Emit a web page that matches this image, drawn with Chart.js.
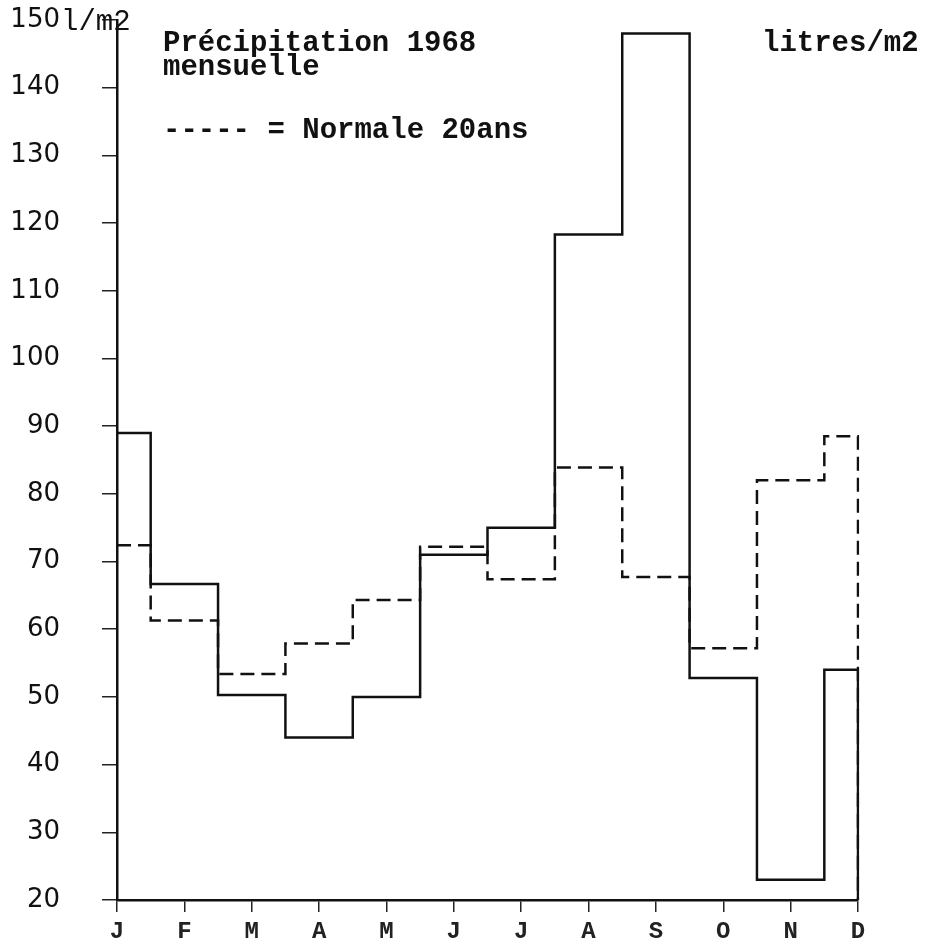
<!DOCTYPE html>
<html>
<head>
<meta charset="utf-8">
<script src="https://cdn.jsdelivr.net/npm/chart.js@4/dist/chart.umd.min.js"></script>
<style>
  html, body { margin: 0; padding: 0; background: #fff; }
  #wrap { width: 933px; height: 945px; position: relative; }
</style>
</head>
<body>
<div id="wrap"><canvas id="c" width="933" height="945"></canvas></div>
<script>
// ---- data ----
const MONTHS = ['J','F','M','A','M','J','J','A','S','O','N','D'];
const RAIN_1968 = [89, 66.7, 50.3, 44, 50, 71, 75, 118.3, 148, 52.8, 23, 54];   // litres/m2, monthly 1968
const NORMAL_20Y = [72.4, 61.3, 53.4, 57.9, 64.3, 72.2, 67.4, 83.9, 67.7, 57.2, 82, 88.5]; // 20-year normal
const Y_MIN = 20;
const Y_MAX = 150;
const Y_STEP = 10;
const TITLE_LINES = ['Précipitation 1968', 'mensuelle'];
const LEGEND_TEXT = '----- = Normale 20ans';
const UNIT_TEXT = 'litres/m2';
const AXIS_UNIT = 'l/m2';

// each series ends by dropping back to the axis baseline at the last month
function toSteps(values) {
  const pts = values.map((v, i) => ({ x: MONTHS[i], y: v }));
  pts.push({ x: MONTHS[MONTHS.length - 1], y: Y_MIN });
  return pts;
}

const textPlugin = {
  id: 'texts',
  afterDraw(chart) {
    const ctx = chart.ctx;
    const y = chart.scales.y;
    ctx.save();
    ctx.fillStyle = '#111';
    ctx.textBaseline = 'alphabetic';
    ctx.textAlign = 'left';
    ctx.font = 'bold 29px "Liberation Mono", monospace';
    ctx.fillText(TITLE_LINES[0], 163, 51);
    ctx.fillText(TITLE_LINES[1], 163, 75);
    ctx.fillText(LEGEND_TEXT, 163, 138);
    ctx.fillText(UNIT_TEXT, 762, 51);
    // unit appended to the top tick label
    ctx.font = '29px "Liberation Mono", monospace';
    ctx.textBaseline = 'middle';
    ctx.fillText(AXIS_UNIT, 61, y.getPixelForValue(Y_MAX) + 2);
    ctx.restore();
  }
};

new Chart(document.getElementById('c'), {
  type: 'line',
  data: {
    labels: MONTHS,
    datasets: [
      {
        label: 'Précipitation 1968',
        data: toSteps(RAIN_1968),
        stepped: 'middle',
        borderColor: '#111',
        borderWidth: 2.5,
        pointRadius: 0,
        fill: false
      },
      {
        label: 'Normale 20ans',
        data: toSteps(NORMAL_20Y),
        stepped: 'middle',
        borderColor: '#111',
        borderWidth: 2.5,
        borderDash: [14, 7],
        pointRadius: 0,
        fill: false
      }
    ]
  },
  options: {
    responsive: false,
    animation: false,
    layout: { padding: { top: 20, right: 75, left: 0, bottom: 0 } },
    plugins: {
      legend: { display: false },
      title: { display: false },
      tooltip: { enabled: false }
    },
    scales: {
      x: {
        type: 'category',
        offset: false,
        grid: { display: true, drawOnChartArea: false, drawTicks: true, tickLength: 12, color: '#222', lineWidth: 1.5 },
        border: { display: true, color: '#111', width: 2.5 },
        ticks: {
          color: '#222',
          padding: 6,
          autoSkip: false,
          maxRotation: 0,
          font: { family: '"Liberation Mono", monospace', size: 24, weight: 'bold' }
        },
        afterFit(scale) { scale.height = 45; }
      },
      y: {
        min: Y_MIN,
        max: Y_MAX,
        grid: { display: true, drawOnChartArea: false, drawTicks: true, tickLength: 15, color: '#222', lineWidth: 1.5 },
        border: { display: true, color: '#111', width: 2.5 },
        ticks: {
          stepSize: Y_STEP,
          color: '#111',
          padding: 42,
          font: { family: '"DejaVu Sans", sans-serif', size: 26 }
        },
        afterFit(scale) {
          scale.width = 117;
          scale.paddingTop = 0;
          scale.paddingBottom = 0;
        }
      }
    }
  },
  plugins: [textPlugin]
});
</script>
</body>
</html>
